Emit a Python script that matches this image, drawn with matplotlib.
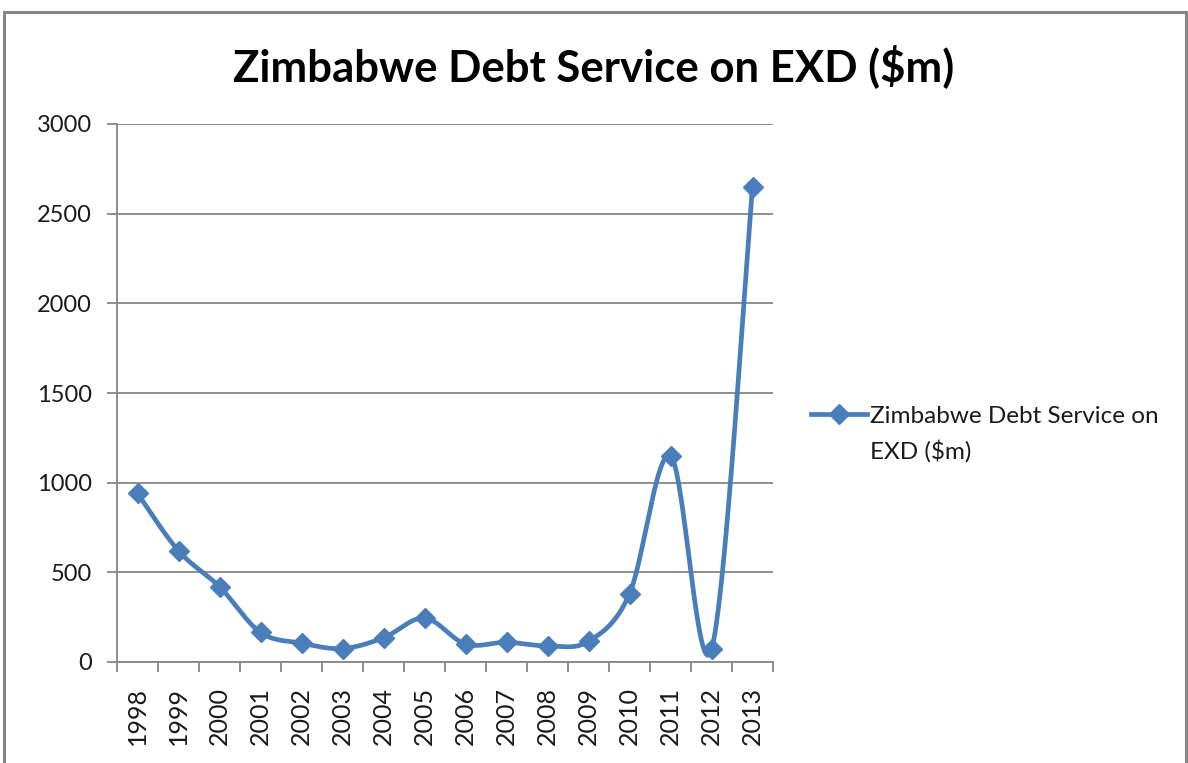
import numpy as np
import matplotlib.pyplot as plt
from matplotlib.patches import Rectangle

# ---------- DATA ----------
years = ["1998", "1999", "2000", "2001", "2002", "2003", "2004", "2005",
         "2006", "2007", "2008", "2009", "2010", "2011", "2012", "2013"]
debt_service = [940, 620, 420, 165, 105, 75, 135, 245,
                100, 110, 90, 115, 380, 1150, 70, 2650]
series_name = ["Zimbabwe Debt Service on", "EXD ($m)"]
chart_title = "Zimbabwe Debt Service on EXD ($m)"
y_ticks = [0, 500, 1000, 1500, 2000, 2500, 3000]

LINE_BLUE = "#4a7ebb"
GRID_GRAY = "#868686"
TEXT_COL = "#1a1a1a"
FONT = ["Lato", "DejaVu Sans"]

plt.rcParams["font.family"] = FONT


def smooth_curve(x, y, steps=40):
    """Bezier smoothing through every point (control = neighbour diff / 6)."""
    x = np.asarray(x, float)
    y = np.asarray(y, float)
    px = np.concatenate([[x[0]], x, [x[-1]]])
    py = np.concatenate([[y[0]], y, [y[-1]]])
    xs, ys = [], []
    t = np.linspace(0, 1, steps)
    for i in range(1, len(px) - 2):
        p0 = np.array([px[i], py[i]])
        p3 = np.array([px[i + 1], py[i + 1]])
        c1 = p0 + (np.array([px[i + 1], py[i + 1]]) - np.array([px[i - 1], py[i - 1]])) / 6
        c2 = p3 - (np.array([px[i + 2], py[i + 2]]) - p0) / 6
        pts = ((1 - t) ** 3)[:, None] * p0 + (3 * (1 - t) ** 2 * t)[:, None] * c1 \
            + (3 * (1 - t) * t ** 2)[:, None] * c2 + (t ** 3)[:, None] * p3
        xs.append(pts[:, 0])
        ys.append(pts[:, 1])
    return np.concatenate(xs), np.concatenate(ys)


fig = plt.figure(figsize=(11.88, 7.63), dpi=100)
ax = fig.add_axes([117 / 1188, 101 / 763, 656 / 1188, 538 / 763])

xpos = np.arange(len(years))
sx, sy = smooth_curve(xpos, debt_service)
ax.plot(sx, sy, color=LINE_BLUE, lw=3.4, solid_capstyle="round", zorder=3)
ax.plot(xpos, debt_service, linestyle="none", marker="D", markersize=10.5,
        color=LINE_BLUE, zorder=4)

# legend proxy: line with a diamond in the middle
ax.plot([], [], color=LINE_BLUE, lw=3.4, marker="D", markersize=10.5,
        label=series_name[0])

ax.set_xlim(-0.5, len(years) - 0.5)
ax.set_ylim(0, 3000)
ax.set_yticks(y_ticks)
ax.set_yticklabels([str(v) for v in y_ticks], fontsize=17, color=TEXT_COL)

# category labels at centres, tick marks at boundaries
ax.set_xticks(xpos)
ax.set_xticklabels(years, rotation=90, fontsize=18, color=TEXT_COL)
ax.set_xticks(np.arange(-0.5, len(years)), minor=True)
ax.tick_params(axis="x", which="major", length=0, pad=18)
ax.tick_params(axis="x", which="minor", length=7, width=1.3, color=GRID_GRAY)
ax.tick_params(axis="y", length=7, width=1.3, color=GRID_GRAY, pad=11)

ax.grid(axis="y", color=GRID_GRAY, lw=1.3)
ax.set_axisbelow(True)
for side in ("top", "right"):
    ax.spines[side].set_visible(False)
for side in ("left", "bottom"):
    ax.spines[side].set_color(GRID_GRAY)
    ax.spines[side].set_linewidth(1.3)

fig.text(0.5, 1 - 66 / 763, chart_title, ha="center", va="center",
         fontsize=31.5, fontweight="bold", color="black")

leg = ax.legend(loc="center left", bbox_to_anchor=(811 / 1188, 1 - 416 / 763),
                bbox_transform=fig.transFigure, frameon=False, fontsize=17.5,
                handlelength=2.3, handletextpad=0.12, borderpad=0,
                borderaxespad=0)
leg.get_texts()[0].set_color(TEXT_COL)

# second line of the legend label, lined up under the first
fig.canvas.draw()
x0 = leg.get_texts()[0].get_window_extent().x0 / fig.bbox.width
fig.text(x0, 1 - 451 / 763, series_name[1], ha="left", va="center",
         fontsize=17.5, color=TEXT_COL)

# outer chart frame
fig.patches.append(Rectangle((4 / 1188, -0.05), 1182 / 1188, 1.05 - 12 / 763,
                             transform=fig.transFigure, fill=False,
                             edgecolor=GRID_GRAY, lw=2.2))

fig.savefig("out.png", dpi=100, facecolor="white")
